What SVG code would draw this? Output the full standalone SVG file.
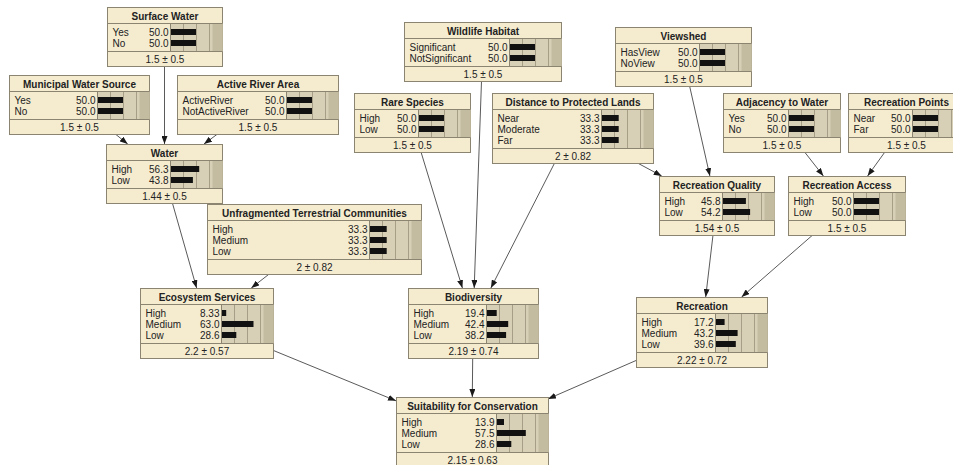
<svg xmlns="http://www.w3.org/2000/svg" width="953" height="465" viewBox="0 0 953 465">
<defs>
<style>
.box{fill:#f5ecd0;stroke:#8a8470;stroke-width:1}
.ba{fill:#d8d0b6}
.bd{fill:#c4bca1}
.grid{stroke:#a69e86;stroke-width:1;fill:none}
.sep{stroke:#8a8470;stroke-width:1;fill:none}
.bar{fill:#111}
.t{font-family:"Liberation Sans",Arial,sans-serif;font-size:10px;fill:#222}
.ti{font-weight:bold;text-anchor:middle}
.v{text-anchor:end}
.m{text-anchor:middle}
.edge{stroke:#5a5a5a;stroke-width:1;fill:none;marker-end:url(#arr)}
</style>
<marker id="arr" viewBox="0 0 8 6" refX="8" refY="3" markerWidth="8" markerHeight="6" orient="auto" markerUnits="userSpaceOnUse"><path d="M0,0L8,3L0,6z" fill="#1a1a1a"/></marker>
</defs>
<rect width="953" height="465" fill="#ffffff"/>
<g id="connectors">
<path class="edge" d="M164.5,66.5L164.5,144"/>
<path class="edge" d="M115.3,134L127.7,144"/>
<path class="edge" d="M217.5,134L204,144"/>
<path class="edge" d="M172.4,203L196.6,288"/>
<path class="edge" d="M269.2,274L251.3,288"/>
<path class="edge" d="M421,152L462.4,288"/>
<path class="edge" d="M481.5,81L474.2,288"/>
<path class="edge" d="M554.6,163L490.9,288"/>
<path class="edge" d="M637.5,163L661.7,176"/>
<path class="edge" d="M689.6,86L709.9,176"/>
<path class="edge" d="M804.6,152L823.4,176"/>
<path class="edge" d="M884.9,152L867.6,176"/>
<path class="edge" d="M713,235L705.7,297"/>
<path class="edge" d="M812.7,235L741.6,297"/>
<path class="edge" d="M273,350.3L396,400.8"/>
<path class="edge" d="M472.7,358L472.3,397"/>
<path class="edge" d="M636,360.5L548,398.9"/>
</g>

<g id="n-surface-water" transform="translate(107.5,7.5)">
<rect class="box" width="115" height="59"/>
<rect class="ba" x="63" y="16" width="52" height="28"/><rect class="bd" x="105" y="16" width="10" height="28"/>
<path class="grid" d="M76,16v28M89,16v28M102,16v28"/>
<path class="sep" d="M0,16H115M0,44H115M63,16V44"/>
<text class="t ti" x="57.5" y="12">Surface Water</text>
<text class="t" x="5" y="28">Yes</text><text class="t v" x="61" y="28">50.0</text><rect class="bar" x="63.5" y="21.5" width="25" height="6"/>
<text class="t" x="5" y="39">No</text><text class="t v" x="61" y="39">50.0</text><rect class="bar" x="63.5" y="32.5" width="25" height="6"/>
<text class="t m" x="57.5" y="55">1.5 ± 0.5</text>
</g>

<g id="n-municipal-water-source" transform="translate(9.5,75.5)">
<rect class="box" width="140" height="59"/>
<rect class="ba" x="88" y="16" width="52" height="28"/><rect class="bd" x="130" y="16" width="10" height="28"/>
<path class="grid" d="M101,16v28M114,16v28M127,16v28"/>
<path class="sep" d="M0,16H140M0,44H140M88,16V44"/>
<text class="t ti" x="70" y="12">Municipal Water Source</text>
<text class="t" x="5" y="28">Yes</text><text class="t v" x="86" y="28">50.0</text><rect class="bar" x="88.5" y="21.5" width="25" height="6"/>
<text class="t" x="5" y="39">No</text><text class="t v" x="86" y="39">50.0</text><rect class="bar" x="88.5" y="32.5" width="25" height="6"/>
<text class="t m" x="70" y="55">1.5 ± 0.5</text>
</g>

<g id="n-active-river-area" transform="translate(177.5,75.5)">
<rect class="box" width="161" height="59"/>
<rect class="ba" x="109" y="16" width="52" height="28"/><rect class="bd" x="151" y="16" width="10" height="28"/>
<path class="grid" d="M122,16v28M135,16v28M148,16v28"/>
<path class="sep" d="M0,16H161M0,44H161M109,16V44"/>
<text class="t ti" x="80.5" y="12">Active River Area</text>
<text class="t" x="5" y="28">ActiveRiver</text><text class="t v" x="107" y="28">50.0</text><rect class="bar" x="109.5" y="21.5" width="25" height="6"/>
<text class="t" x="5" y="39">NotActiveRiver</text><text class="t v" x="107" y="39">50.0</text><rect class="bar" x="109.5" y="32.5" width="25" height="6"/>
<text class="t m" x="80.5" y="55">1.5 ± 0.5</text>
</g>

<g id="n-water" transform="translate(106.5,144.5)">
<rect class="box" width="116" height="59"/>
<rect class="ba" x="64" y="16" width="52" height="28"/><rect class="bd" x="106" y="16" width="10" height="28"/>
<path class="grid" d="M77,16v28M90,16v28M103,16v28"/>
<path class="sep" d="M0,16H116M0,44H116M64,16V44"/>
<text class="t ti" x="58" y="12">Water</text>
<text class="t" x="5" y="28">High</text><text class="t v" x="62" y="28">56.3</text><rect class="bar" x="64.5" y="21.5" width="28.2" height="6"/>
<text class="t" x="5" y="39">Low</text><text class="t v" x="62" y="39">43.8</text><rect class="bar" x="64.5" y="32.5" width="21.9" height="6"/>
<text class="t m" x="58" y="55">1.44 ± 0.5</text>
</g>

<g id="n-unfragmented-terrestrial-communities" transform="translate(207.5,204.5)">
<rect class="box" width="214" height="70"/>
<rect class="ba" x="162" y="16" width="52" height="39"/><rect class="bd" x="204" y="16" width="10" height="39"/>
<path class="grid" d="M175,16v39M188,16v39M201,16v39"/>
<path class="sep" d="M0,16H214M0,55H214M162,16V55"/>
<text class="t ti" x="107" y="12">Unfragmented Terrestrial Communities</text>
<text class="t" x="5" y="28">High</text><text class="t v" x="160" y="28">33.3</text><rect class="bar" x="162.5" y="21.5" width="16.7" height="6"/>
<text class="t" x="5" y="39">Medium</text><text class="t v" x="160" y="39">33.3</text><rect class="bar" x="162.5" y="32.5" width="16.7" height="6"/>
<text class="t" x="5" y="50">Low</text><text class="t v" x="160" y="50">33.3</text><rect class="bar" x="162.5" y="43.5" width="16.7" height="6"/>
<text class="t m" x="107" y="66">2 ± 0.82</text>
</g>

<g id="n-ecosystem-services" transform="translate(140.5,288.5)">
<rect class="box" width="133" height="70"/>
<rect class="ba" x="81" y="16" width="52" height="39"/><rect class="bd" x="123" y="16" width="10" height="39"/>
<path class="grid" d="M94,16v39M107,16v39M120,16v39"/>
<path class="sep" d="M0,16H133M0,55H133M81,16V55"/>
<text class="t ti" x="66.5" y="12">Ecosystem Services</text>
<text class="t" x="5" y="28">High</text><text class="t v" x="79" y="28">8.33</text><rect class="bar" x="81.5" y="21.5" width="4.2" height="6"/>
<text class="t" x="5" y="39">Medium</text><text class="t v" x="79" y="39">63.0</text><rect class="bar" x="81.5" y="32.5" width="31.5" height="6"/>
<text class="t" x="5" y="50">Low</text><text class="t v" x="79" y="50">28.6</text><rect class="bar" x="81.5" y="43.5" width="14.3" height="6"/>
<text class="t m" x="66.5" y="66">2.2 ± 0.57</text>
</g>

<g id="n-wildlife-habitat" transform="translate(404.5,22.5)">
<rect class="box" width="157" height="59"/>
<rect class="ba" x="105" y="16" width="52" height="28"/><rect class="bd" x="147" y="16" width="10" height="28"/>
<path class="grid" d="M118,16v28M131,16v28M144,16v28"/>
<path class="sep" d="M0,16H157M0,44H157M105,16V44"/>
<text class="t ti" x="78.5" y="12">Wildlife Habitat</text>
<text class="t" x="5" y="28">Significant</text><text class="t v" x="103" y="28">50.0</text><rect class="bar" x="105.5" y="21.5" width="25" height="6"/>
<text class="t" x="5" y="39">NotSignificant</text><text class="t v" x="103" y="39">50.0</text><rect class="bar" x="105.5" y="32.5" width="25" height="6"/>
<text class="t m" x="78.5" y="55">1.5 ± 0.5</text>
</g>

<g id="n-rare-species" transform="translate(354.5,93.5)">
<rect class="box" width="116" height="59"/>
<rect class="ba" x="64" y="16" width="52" height="28"/><rect class="bd" x="106" y="16" width="10" height="28"/>
<path class="grid" d="M77,16v28M90,16v28M103,16v28"/>
<path class="sep" d="M0,16H116M0,44H116M64,16V44"/>
<text class="t ti" x="58" y="12">Rare Species</text>
<text class="t" x="5" y="28">High</text><text class="t v" x="62" y="28">50.0</text><rect class="bar" x="64.5" y="21.5" width="25" height="6"/>
<text class="t" x="5" y="39">Low</text><text class="t v" x="62" y="39">50.0</text><rect class="bar" x="64.5" y="32.5" width="25" height="6"/>
<text class="t m" x="58" y="55">1.5 ± 0.5</text>
</g>

<g id="n-distance-to-protected-lands" transform="translate(492.5,93.5)">
<rect class="box" width="161" height="70"/>
<rect class="ba" x="109" y="16" width="52" height="39"/><rect class="bd" x="151" y="16" width="10" height="39"/>
<path class="grid" d="M122,16v39M135,16v39M148,16v39"/>
<path class="sep" d="M0,16H161M0,55H161M109,16V55"/>
<text class="t ti" x="80.5" y="12">Distance to Protected Lands</text>
<text class="t" x="5" y="28">Near</text><text class="t v" x="107" y="28">33.3</text><rect class="bar" x="109.5" y="21.5" width="16.7" height="6"/>
<text class="t" x="5" y="39">Moderate</text><text class="t v" x="107" y="39">33.3</text><rect class="bar" x="109.5" y="32.5" width="16.7" height="6"/>
<text class="t" x="5" y="50">Far</text><text class="t v" x="107" y="50">33.3</text><rect class="bar" x="109.5" y="43.5" width="16.7" height="6"/>
<text class="t m" x="80.5" y="66">2 ± 0.82</text>
</g>

<g id="n-viewshed" transform="translate(615.5,27.5)">
<rect class="box" width="136" height="59"/>
<rect class="ba" x="84" y="16" width="52" height="28"/><rect class="bd" x="126" y="16" width="10" height="28"/>
<path class="grid" d="M97,16v28M110,16v28M123,16v28"/>
<path class="sep" d="M0,16H136M0,44H136M84,16V44"/>
<text class="t ti" x="68" y="12">Viewshed</text>
<text class="t" x="5" y="28">HasView</text><text class="t v" x="82" y="28">50.0</text><rect class="bar" x="84.5" y="21.5" width="25" height="6"/>
<text class="t" x="5" y="39">NoView</text><text class="t v" x="82" y="39">50.0</text><rect class="bar" x="84.5" y="32.5" width="25" height="6"/>
<text class="t m" x="68" y="55">1.5 ± 0.5</text>
</g>

<g id="n-adjacency-to-water" transform="translate(723.5,93.5)">
<rect class="box" width="117" height="59"/>
<rect class="ba" x="65" y="16" width="52" height="28"/><rect class="bd" x="107" y="16" width="10" height="28"/>
<path class="grid" d="M78,16v28M91,16v28M104,16v28"/>
<path class="sep" d="M0,16H117M0,44H117M65,16V44"/>
<text class="t ti" x="58.5" y="12">Adjacency to Water</text>
<text class="t" x="5" y="28">Yes</text><text class="t v" x="63" y="28">50.0</text><rect class="bar" x="65.5" y="21.5" width="25" height="6"/>
<text class="t" x="5" y="39">No</text><text class="t v" x="63" y="39">50.0</text><rect class="bar" x="65.5" y="32.5" width="25" height="6"/>
<text class="t m" x="58.5" y="55">1.5 ± 0.5</text>
</g>

<g id="n-recreation-points" transform="translate(848.5,93.5)">
<rect class="box" width="116" height="59"/>
<rect class="ba" x="64" y="16" width="52" height="28"/><rect class="bd" x="106" y="16" width="10" height="28"/>
<path class="grid" d="M77,16v28M90,16v28M103,16v28"/>
<path class="sep" d="M0,16H116M0,44H116M64,16V44"/>
<text class="t ti" x="58" y="12">Recreation Points</text>
<text class="t" x="5" y="28">Near</text><text class="t v" x="62" y="28">50.0</text><rect class="bar" x="64.5" y="21.5" width="25" height="6"/>
<text class="t" x="5" y="39">Far</text><text class="t v" x="62" y="39">50.0</text><rect class="bar" x="64.5" y="32.5" width="25" height="6"/>
<text class="t m" x="58" y="55">1.5 ± 0.5</text>
</g>

<g id="n-recreation-quality" transform="translate(659.5,176.5)">
<rect class="box" width="115" height="59"/>
<rect class="ba" x="63" y="16" width="52" height="28"/><rect class="bd" x="105" y="16" width="10" height="28"/>
<path class="grid" d="M76,16v28M89,16v28M102,16v28"/>
<path class="sep" d="M0,16H115M0,44H115M63,16V44"/>
<text class="t ti" x="57.5" y="12">Recreation Quality</text>
<text class="t" x="5" y="28">High</text><text class="t v" x="61" y="28">45.8</text><rect class="bar" x="63.5" y="21.5" width="22.9" height="6"/>
<text class="t" x="5" y="39">Low</text><text class="t v" x="61" y="39">54.2</text><rect class="bar" x="63.5" y="32.5" width="27.1" height="6"/>
<text class="t m" x="57.5" y="55">1.54 ± 0.5</text>
</g>

<g id="n-recreation-access" transform="translate(788.5,176.5)">
<rect class="box" width="117" height="59"/>
<rect class="ba" x="65" y="16" width="52" height="28"/><rect class="bd" x="107" y="16" width="10" height="28"/>
<path class="grid" d="M78,16v28M91,16v28M104,16v28"/>
<path class="sep" d="M0,16H117M0,44H117M65,16V44"/>
<text class="t ti" x="58.5" y="12">Recreation Access</text>
<text class="t" x="5" y="28">High</text><text class="t v" x="63" y="28">50.0</text><rect class="bar" x="65.5" y="21.5" width="25" height="6"/>
<text class="t" x="5" y="39">Low</text><text class="t v" x="63" y="39">50.0</text><rect class="bar" x="65.5" y="32.5" width="25" height="6"/>
<text class="t m" x="58.5" y="55">1.5 ± 0.5</text>
</g>

<g id="n-recreation" transform="translate(636.5,297.5)">
<rect class="box" width="131" height="70"/>
<rect class="ba" x="79" y="16" width="52" height="39"/><rect class="bd" x="121" y="16" width="10" height="39"/>
<path class="grid" d="M92,16v39M105,16v39M118,16v39"/>
<path class="sep" d="M0,16H131M0,55H131M79,16V55"/>
<text class="t ti" x="65.5" y="12">Recreation</text>
<text class="t" x="5" y="28">High</text><text class="t v" x="77" y="28">17.2</text><rect class="bar" x="79.5" y="21.5" width="8.6" height="6"/>
<text class="t" x="5" y="39">Medium</text><text class="t v" x="77" y="39">43.2</text><rect class="bar" x="79.5" y="32.5" width="21.6" height="6"/>
<text class="t" x="5" y="50">Low</text><text class="t v" x="77" y="50">39.6</text><rect class="bar" x="79.5" y="43.5" width="19.8" height="6"/>
<text class="t m" x="65.5" y="66">2.22 ± 0.72</text>
</g>

<g id="n-biodiversity" transform="translate(408.5,288.5)">
<rect class="box" width="130" height="70"/>
<rect class="ba" x="78" y="16" width="52" height="39"/><rect class="bd" x="120" y="16" width="10" height="39"/>
<path class="grid" d="M91,16v39M104,16v39M117,16v39"/>
<path class="sep" d="M0,16H130M0,55H130M78,16V55"/>
<text class="t ti" x="65" y="12">Biodiversity</text>
<text class="t" x="5" y="28">High</text><text class="t v" x="76" y="28">19.4</text><rect class="bar" x="78.5" y="21.5" width="9.7" height="6"/>
<text class="t" x="5" y="39">Medium</text><text class="t v" x="76" y="39">42.4</text><rect class="bar" x="78.5" y="32.5" width="21.2" height="6"/>
<text class="t" x="5" y="50">Low</text><text class="t v" x="76" y="50">38.2</text><rect class="bar" x="78.5" y="43.5" width="19.1" height="6"/>
<text class="t m" x="65" y="66">2.19 ± 0.74</text>
</g>

<g id="n-suitability-for-conservation" transform="translate(396.5,397.5)">
<rect class="box" width="152" height="70"/>
<rect class="ba" x="100" y="16" width="52" height="39"/><rect class="bd" x="142" y="16" width="10" height="39"/>
<path class="grid" d="M113,16v39M126,16v39M139,16v39"/>
<path class="sep" d="M0,16H152M0,55H152M100,16V55"/>
<text class="t ti" x="76" y="12">Suitability for Conservation</text>
<text class="t" x="5" y="28">High</text><text class="t v" x="98" y="28">13.9</text><rect class="bar" x="100.5" y="21.5" width="7" height="6"/>
<text class="t" x="5" y="39">Medium</text><text class="t v" x="98" y="39">57.5</text><rect class="bar" x="100.5" y="32.5" width="28.8" height="6"/>
<text class="t" x="5" y="50">Low</text><text class="t v" x="98" y="50">28.6</text><rect class="bar" x="100.5" y="43.5" width="14.3" height="6"/>
<text class="t m" x="76" y="66">2.15 ± 0.63</text>
</g>
</svg>
